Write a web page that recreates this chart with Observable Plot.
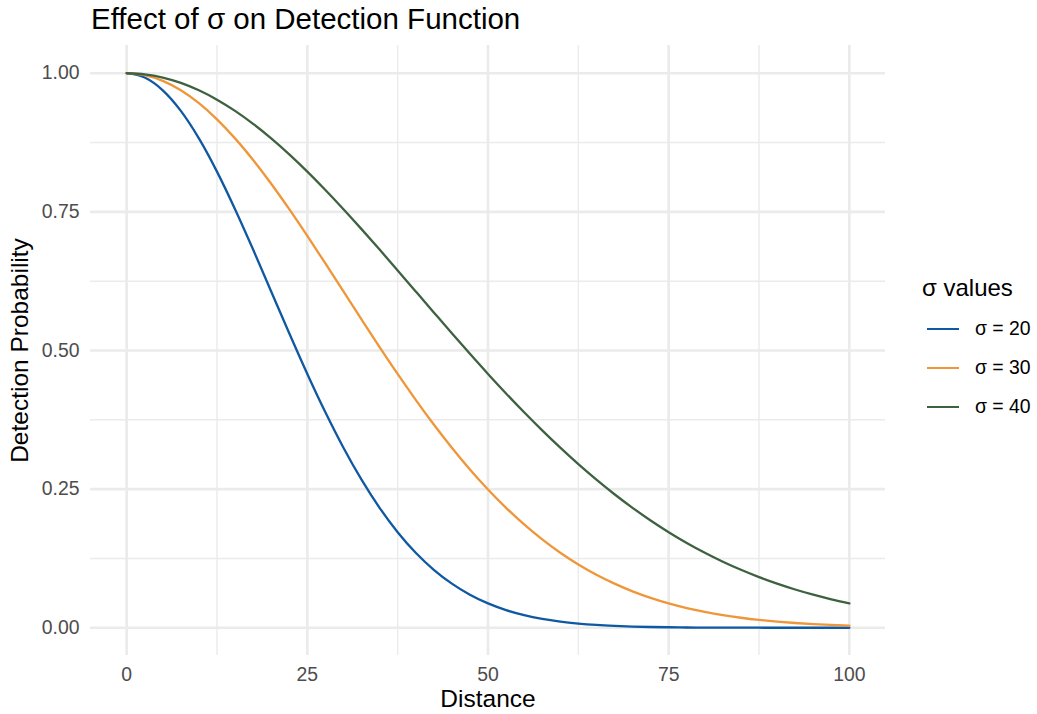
<!DOCTYPE html>
<html>
<head>
<meta charset="utf-8">
<script src="https://cdn.jsdelivr.net/npm/d3@7"></script>
<script src="https://cdn.jsdelivr.net/npm/@observablehq/plot@0.6"></script>
<style>
  html, body { margin: 0; padding: 0; background: #fff; }
  #wrap { position: relative; width: 1037px; height: 714px; font-family: "Liberation Sans", Arial, sans-serif; }
  #title { height: 38px; line-height: 38px; padding-left: 91px; font-size: 29.5px; color: #000; white-space: nowrap; }
  #legend { position: absolute; left: 0; top: 0; }
  .lg-title { position: absolute; font-size: 24px; color: #000; white-space: nowrap; line-height: 1; }
  .lg-key { position: absolute; height: 2.4px; width: 32px; }
  .lg-label { position: absolute; font-size: 19.4px; color: #000; white-space: nowrap; line-height: 1; }
</style>
</head>
<body>
<div id="wrap">
  <div id="title">Effect of σ on Detection Function</div>
  <div id="chart"></div>
  <div id="legend"></div>
</div>
<script>
// Distance values (x)
const distance = [0, 2.5, 5, 7.5, 10, 12.5, 15, 17.5, 20, 22.5, 25, 27.5, 30, 32.5, 35, 37.5, 40, 42.5, 45, 47.5, 50,
  52.5, 55, 57.5, 60, 62.5, 65, 67.5, 70, 72.5, 75, 77.5, 80, 82.5, 85, 87.5, 90, 92.5, 95, 97.5, 100];

// Detection probability
const sigma20 = [1, 0.9922, 0.9692, 0.9321, 0.8825, 0.8226, 0.7548, 0.6820, 0.6065, 0.5311, 0.4578, 0.3886, 0.3247, 0.2671,
  0.2163, 0.1724, 0.1353, 0.1046, 0.0796, 0.0596, 0.0439, 0.0319, 0.0228, 0.0160, 0.0111, 0.0076, 0.0051, 0.0034,
  0.0022, 0.0014, 0.0009, 0.0005, 0.0003, 0.0002, 0.0001, 0.0001, 0, 0, 0, 0, 0];
const sigma30 = [1, 0.9965, 0.9862, 0.9692, 0.9460, 0.9169, 0.8825, 0.8435, 0.8007, 0.7548, 0.7066, 0.6570, 0.6065, 0.5561,
  0.5063, 0.4578, 0.4111, 0.3666, 0.3247, 0.2855, 0.2494, 0.2163, 0.1863, 0.1593, 0.1353, 0.1142, 0.0956, 0.0796,
  0.0657, 0.0539, 0.0439, 0.0355, 0.0286, 0.0228, 0.0181, 0.0142, 0.0111, 0.0086, 0.0066, 0.0051, 0.0039];
const sigma40 = [1, 0.9980, 0.9922, 0.9826, 0.9692, 0.9523, 0.9321, 0.9087, 0.8825, 0.8537, 0.8226, 0.7895, 0.7548, 0.7189,
  0.6820, 0.6444, 0.6065, 0.5687, 0.5311, 0.4941, 0.4578, 0.4226, 0.3886, 0.3559, 0.3247, 0.2950, 0.2671, 0.2408,
  0.2163, 0.1935, 0.1724, 0.1530, 0.1353, 0.1192, 0.1046, 0.0914, 0.0796, 0.0690, 0.0596, 0.0513, 0.0439];

const seriesLabels = ["σ = 20", "σ = 30", "σ = 40"];
const seriesColors = ["#0F58A2", "#EE9638", "#3E6140"];
const legendTitle = "σ values";

const xTicks = [0, 25, 50, 75, 100];
const xMinor = [12.5, 37.5, 62.5, 87.5];
const yTicks = [0, 0.25, 0.5, 0.75, 1];
const yMinor = [0.125, 0.375, 0.625, 0.875];

const seriesValues = [sigma20, sigma30, sigma40];
const rows = seriesValues.flatMap((vals, i) =>
  vals.map((p, j) => ({distance: distance[j], prob: p, series: seriesLabels[i]})));

const font = "'Liberation Sans', Arial, sans-serif";
const gridColor = "#ebebeb";

const chart = Plot.plot({
  width: 1037,
  height: 676,
  marginLeft: 90,
  marginRight: 152,
  marginTop: 7,
  marginBottom: 59,
  style: {fontFamily: font, background: "#fff"},
  x: {domain: [-5, 105]},
  y: {domain: [-0.05, 1.05]},
  color: {domain: seriesLabels, range: seriesColors},
  marks: [
    Plot.ruleX(xMinor, {stroke: gridColor, strokeWidth: 1.4}),
    Plot.ruleY(yMinor, {stroke: gridColor, strokeWidth: 1.4}),
    Plot.ruleX(xTicks, {stroke: gridColor, strokeWidth: 2.7}),
    Plot.ruleY(yTicks, {stroke: gridColor, strokeWidth: 2.7}),
    Plot.axisX({ticks: xTicks, tickSize: 0, tickPadding: 12, fontSize: 19.4, color: "#4d4d4d", label: null, tickFormat: d3.format("d")}),
    Plot.axisY({ticks: yTicks, tickSize: 0, tickPadding: 11, fontSize: 19.4, color: "#4d4d4d", label: null, tickFormat: d3.format(".2f")}),
    Plot.text(["Distance"], {frameAnchor: "bottom", lineAnchor: "middle", textAnchor: "middle", dy: 44, text: d => d, fontSize: 24.5, fill: "#000"}),
    Plot.text(["Detection Probability"], {frameAnchor: "left", textAnchor: "middle", lineAnchor: "middle", dx: -70, rotate: -90, text: d => d, fontSize: 24.5, fill: "#000"}),
    Plot.line(rows, {x: "distance", y: "prob", stroke: "series", z: "series", strokeWidth: 2.3, curve: "monotone-x"})
  ]
});
document.getElementById("chart").appendChild(chart);

// Legend (HTML)
const legend = document.getElementById("legend");
const lt = document.createElement("div");
lt.className = "lg-title";
lt.textContent = legendTitle;
lt.style.left = "922px";
lt.style.top = "276px";
legend.appendChild(lt);
seriesLabels.forEach((lab, i) => {
  const cy = 329 + i * 39;
  const key = document.createElement("div");
  key.className = "lg-key";
  key.style.background = seriesColors[i];
  key.style.left = "927px";
  key.style.top = (cy - 1.2) + "px";
  legend.appendChild(key);
  const t = document.createElement("div");
  t.className = "lg-label";
  t.textContent = lab;
  t.style.left = "975px";
  t.style.top = (cy - 10) + "px";
  legend.appendChild(t);
});
</script>
</body>
</html>
